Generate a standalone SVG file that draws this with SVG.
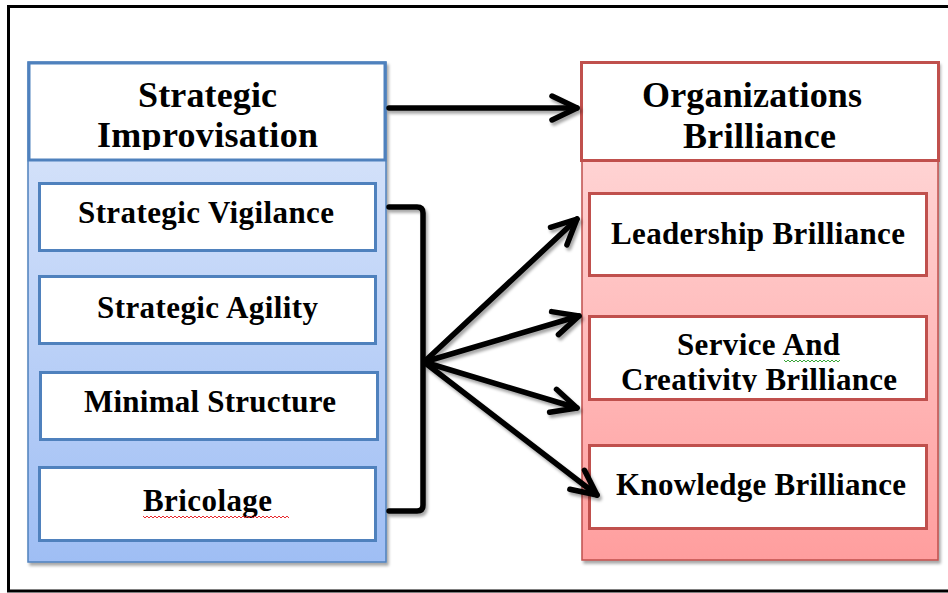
<svg xmlns="http://www.w3.org/2000/svg" width="948" height="593" viewBox="0 0 948 593">
<style>
.t{font-family:"Liberation Serif","Times New Roman",serif;font-weight:bold;fill:#000;text-anchor:middle}
.h{font-size:36px}
.s{font-size:31px}
.bl{stroke:#4F81BD;stroke-width:3;fill:#fff}
.rd{stroke:#C0504D;stroke-width:3;fill:#fff}
.con{fill:none;stroke:#000;stroke-width:5.5;stroke-linecap:round;stroke-linejoin:round}
</style>
<defs>
<linearGradient id="gb" x1="0" y1="0" x2="0" y2="1">
<stop offset="0" stop-color="#DFE9FB"/>
<stop offset="1" stop-color="#9FBEF4"/>
</linearGradient>
<linearGradient id="gr" x1="0" y1="0" x2="0" y2="1">
<stop offset="0" stop-color="#FFE0E0"/>
<stop offset="1" stop-color="#FF9E9E"/>
</linearGradient>
<filter id="sh" x="-10%" y="-10%" width="130%" height="130%">
<feDropShadow dx="2" dy="3" stdDeviation="1.5" flood-color="#000" flood-opacity="0.35"/>
</filter>
<marker id="ah" markerUnits="userSpaceOnUse" markerWidth="40" markerHeight="40" refX="30" refY="20" orient="auto" viewBox="0 0 40 40">
<path d="M5,8 L30,20 L5,32" fill="none" stroke="#000" stroke-width="5.5" stroke-linecap="round" stroke-linejoin="round"/>
</marker>
<clipPath id="c1"><rect x="0" y="60" width="948" height="90"/></clipPath>
<clipPath id="c2"><rect x="0" y="300" width="948" height="92"/></clipPath>
</defs>
<rect x="8.5" y="6.5" width="950" height="584.5" fill="#fff" stroke="#000" stroke-width="3"/>

<g id="strategic-improvisation">
<rect x="28" y="62" width="358" height="500" fill="url(#gb)" stroke="#4F81BD" stroke-width="1.5" filter="url(#sh)"/>
<rect class="bl" x="29" y="63" width="356" height="97"/>
<text class="t h" x="207.5" y="107" textLength="139" lengthAdjust="spacing">Strategic</text>
<text class="t h" x="207.5" y="147" textLength="221" lengthAdjust="spacing" clip-path="url(#c1)">Improvisation</text>
</g>
<g id="strategic-vigilance">
<rect class="bl" x="39.5" y="183.5" width="336" height="67"/>
<text class="t s" x="206" y="223" textLength="256" lengthAdjust="spacing">Strategic Vigilance</text>
</g>
<g id="strategic-agility">
<rect class="bl" x="39.5" y="276.5" width="336" height="67"/>
<text class="t s" x="207.5" y="318" textLength="221" lengthAdjust="spacing">Strategic Agility</text>
</g>
<g id="minimal-structure">
<rect class="bl" x="40.5" y="372.5" width="337" height="67"/>
<text class="t s" x="210" y="412" textLength="252" lengthAdjust="spacing">Minimal Structure</text>
</g>
<g id="bricolage">
<rect class="bl" x="39.5" y="467.5" width="336" height="73"/>
<text class="t s" x="207.5" y="511" textLength="129" lengthAdjust="spacing">Bricolage</text>
<path d="M143,516 l2,2 l2,-2 l2,2 l2,-2 l2,2 l2,-2 l2,2 l2,-2 l2,2 l2,-2 l2,2 l2,-2 l2,2 l2,-2 l2,2 l2,-2 l2,2 l2,-2 l2,2 l2,-2 l2,2 l2,-2 l2,2 l2,-2 l2,2 l2,-2 l2,2 l2,-2 l2,2 l2,-2 l2,2 l2,-2 l2,2 l2,-2 l2,2 l2,-2 l2,2 l2,-2 l2,2 l2,-2 l2,2 l2,-2 l2,2 l2,-2 l2,2 l2,-2 l2,2 l2,-2 l2,2 l2,-2 l2,2 l2,-2 l2,2 l2,-2 l2,2 l2,-2 l2,2 l2,-2 l2,2 l2,-2 l2,2 l2,-2 l2,2 l2,-2 l2,2 l2,-2 l2,2 l2,-2 l2,2 l2,-2 l2,2 l2,-2 l2,2" fill="none" stroke="#E8282D" stroke-width="1"/>
</g>

<g id="organizations-brilliance">
<rect x="582" y="62" width="356" height="498" fill="url(#gr)" stroke="#C0504D" stroke-width="1.5" filter="url(#sh)"/>
<rect class="rd" x="581.5" y="62.5" width="357" height="98"/>
<text class="t h" x="752" y="107" textLength="220" lengthAdjust="spacing">Organizations</text>
<text class="t h" x="759.5" y="148" textLength="153" lengthAdjust="spacing">Brilliance</text>
</g>
<g id="leadership-brilliance">
<rect class="rd" x="589.5" y="193.5" width="337" height="82"/>
<text class="t s" x="758" y="244" textLength="294" lengthAdjust="spacing">Leadership Brilliance</text>
</g>
<g id="service-creativity-brilliance">
<rect class="rd" x="589.5" y="316.5" width="337" height="83"/>
<text class="t s" x="758.5" y="355" textLength="163" lengthAdjust="spacing">Service And</text>
<text class="t s" x="759" y="390" textLength="276" lengthAdjust="spacing" clip-path="url(#c2)">Creativity Brilliance</text>
<path d="M784,360 l2,2 l2,-2 l2,2 l2,-2 l2,2 l2,-2 l2,2 l2,-2 l2,2 l2,-2 l2,2 l2,-2 l2,2 l2,-2 l2,2 l2,-2 l2,2 l2,-2 l2,2 l2,-2 l2,2 l2,-2 l2,2 l2,-2 l2,2 l2,-2 l2,2 l2,-2" fill="none" stroke="#3AA53A" stroke-width="1"/>
</g>
<g id="knowledge-brilliance">
<rect class="rd" x="589.5" y="445.5" width="337" height="83"/>
<text class="t s" x="761" y="495" textLength="290" lengthAdjust="spacing">Knowledge Brilliance</text>
</g>

<g id="connectors" filter="url(#sh)">
<path class="con" d="M389,108 L577,108" marker-end="url(#ah)"/>
<path class="con" d="M389,207 L417,207 Q423,207 423,213 L423,505 Q423,511 417,511 L389,511"/>
<path class="con" d="M424,362 L577,219" marker-end="url(#ah)"/>
<path class="con" d="M424,362 L579,316" marker-end="url(#ah)"/>
<path class="con" d="M424,362 L577,408" marker-end="url(#ah)"/>
<path class="con" d="M424,362 L597,495" marker-end="url(#ah)"/>
</g>
</svg>
